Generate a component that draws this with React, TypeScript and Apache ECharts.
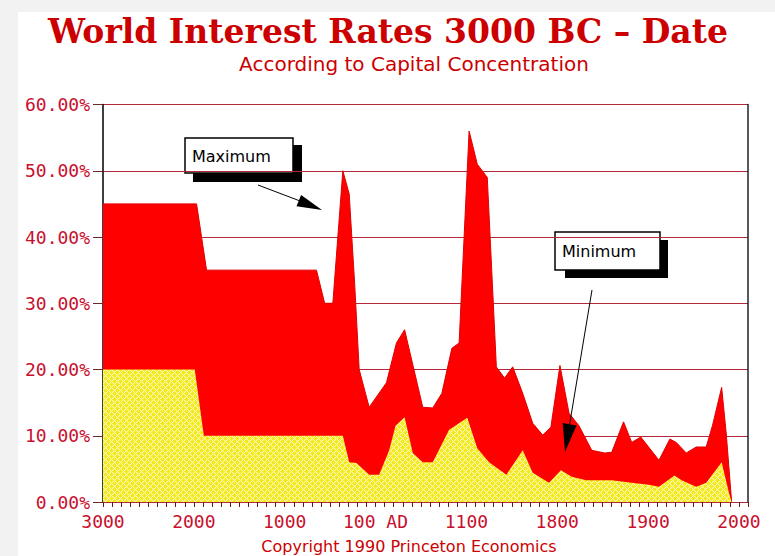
import React, { useEffect, useRef } from "react";
import * as echarts from "echarts";

// x positions are on an era axis: 0 = 3000 BC, 10 = 2000 BC, ... 70 = 2000 AD
const xTickLabels = ["3000", "2000", "1000", "100 AD", "1100", "1800", "1900", "2000"];

const maxPos = [0, 10.3, 11.4, 23.5, 24.4, 25.3, 26.4, 27.1, 27.7, 28.2, 29.3, 31.2, 32.3, 33.2, 35.2, 36.3, 37.3, 38.4, 39.2, 40.3, 41.2, 42.3, 43.3, 44.2, 45.1, 46.2, 47.3, 48.4, 49.3, 50.3, 51.3, 52.4, 53.8, 55.2, 56.0, 57.3, 58.2, 59.2, 61.2, 62.4, 63.1, 64.2, 65.3, 66.4, 67.1, 68.1, 68.6, 69.2];
const maxVal = [45, 45, 35, 35, 30, 30, 50, 46.5, 33, 20, 14.3, 18, 24, 26, 14.3, 14.2, 16.4, 23.2, 24, 56, 51, 49, 20.4, 18.7, 20.4, 16.4, 11.9, 10.1, 11.3, 20.6, 13.4, 11.5, 7.8, 7.4, 7.5, 12.1, 9, 9.8, 6.3, 9.5, 9, 7.4, 8.3, 8.3, 11.6, 17.3, 10.4, 0];

const minPos = [0, 10.1, 11.1, 26.4, 27.1, 27.9, 29.3, 30.4, 31.5, 32.2, 33.2, 34.1, 35.2, 36.3, 38.1, 40.1, 41.2, 42.5, 44.4, 46.2, 47.3, 49.1, 50.4, 51.6, 53.2, 56.0, 58.2, 60.1, 61.2, 62.9, 63.7, 65.3, 66.4, 68.1, 68.9, 69.2];
const minVal = [20, 20, 10, 10, 6, 5.9, 4.1, 4.1, 7.8, 11.5, 12.8, 7.4, 6, 6, 10.9, 12.7, 8.1, 6, 4.1, 7.8, 4.4, 2.9, 4.8, 3.8, 3.3, 3.3, 2.9, 2.6, 2.3, 4, 3.3, 2.3, 2.9, 6, 1.4, 0];

function makePattern(): any {
  const n = 6;
  const c = document.createElement("canvas");
  c.width = n;
  c.height = n;
  const ctx = c.getContext("2d");
  if (!ctx) return "#f6f062";
  ctx.fillStyle = "#f4ea20";
  ctx.fillRect(0, 0, n, n);
  ctx.fillStyle = "#fffbd0";
  for (let x = 0; x < n; x++) {
    for (let y = 0; y < n; y++) {
      if ((x + y) % n === 0 || (x - y + n) % n === 0) ctx.fillRect(x, y, 1, 1);
    }
  }
  return { image: c, repeat: "repeat" };
}

export default function App() {
  const ref = useRef<HTMLDivElement>(null);
  useEffect(() => {
    if (!ref.current) return;
    const chart = echarts.init(ref.current, null, { renderer: "svg" });
    const maxData = maxPos.map((p, i) => [p, maxVal[i]]);
    const minData = minPos.map((p, i) => [p, minVal[i]]);
    const labelRed = "#c8102e";
    chart.setOption({
      animation: false,
      title: [
        {
          text: "World Interest Rates 3000 BC – Date",
          left: 30,
          top: 3,
          padding: 0,
          textStyle: { color: "#cc0000", fontFamily: "DejaVu Serif", fontWeight: "bold", fontSize: 33 },
        },
        {
          text: "According to Capital Concentration",
          left: 396,
          top: 42,
          textAlign: "center",
          padding: 0,
          textStyle: { color: "#cc0000", fontFamily: "DejaVu Sans", fontWeight: "normal", fontSize: 20 },
        },
        {
          text: "Copyright 1990 Princeton Economics",
          left: 391,
          top: 526,
          textAlign: "center",
          padding: 0,
          textStyle: { color: "#cc0000", fontFamily: "DejaVu Sans", fontWeight: "normal", fontSize: 16 },
        },
      ],
      grid: { left: 85, right: 27, top: 92.5, bottom: 54, containLabel: false },
      xAxis: {
        type: "value",
        min: 0,
        max: 71,
        interval: 10,
        axisLine: { show: false },
        axisTick: { show: true, length: 5, lineStyle: { color: "#6a1818", width: 1 } },
        minorTick: { show: true, splitNumber: 10, length: 5, lineStyle: { color: "#6a1818", width: 1 } },
        splitLine: { show: false },
        axisLabel: {
          margin: 10,
          color: labelRed,
          fontFamily: "DejaVu Sans Mono",
          fontSize: 18,
          formatter: (v: number) => {
            const k = Math.round(v / 10);
            return Math.abs(v - k * 10) < 1e-6 && k >= 0 && k < xTickLabels.length ? xTickLabels[k] : "";
          },
        },
      },
      yAxis: [
        {
          type: "value",
          min: 0,
          max: 60,
          interval: 10,
          axisLine: { show: true, lineStyle: { color: "#000", width: 1.5 } },
          axisTick: { show: true, length: 10, lineStyle: { color: "#6b2a2a", width: 1 } },
          splitLine: { show: true, lineStyle: { color: "#b3283a", width: 1 } },
          axisLabel: {
            margin: 13,
            color: labelRed,
            fontFamily: "DejaVu Sans Mono",
            fontSize: 18,
            formatter: (v: number) => v.toFixed(2) + "%",
          },
        },
        {
          type: "value",
          position: "right",
          min: 0,
          max: 60,
          interval: 10,
          axisLine: { show: true, lineStyle: { color: "#222", width: 1.5 } },
          axisTick: { show: false },
          axisLabel: { show: false },
          splitLine: { show: false },
        },
      ],
      series: [
        {
          name: "Maximum",
          type: "line",
          data: maxData,
          showSymbol: false,
          symbol: "none",
          z: 2,
          lineStyle: { color: "#e00000", width: 1 },
          areaStyle: { color: "#ff0000", opacity: 1 },
        },
        {
          name: "Minimum",
          type: "line",
          data: minData,
          showSymbol: false,
          symbol: "none",
          z: 3,
          lineStyle: { width: 0, opacity: 0 },
          areaStyle: { color: makePattern(), opacity: 1 },
        },
      ],
      graphic: [
        { type: "rect", z: -1, shape: { x: 175, y: 133, width: 109, height: 37 }, style: { fill: "#000" } },
        { type: "rect", z: -1, shape: { x: 167, y: 126, width: 108, height: 35 }, style: { fill: "#fff", stroke: "#000", lineWidth: 1.5 } },
        { type: "text", z: 10, x: 174, y: 136, style: { text: "Maximum", fill: "#000", font: "16px 'DejaVu Sans'" } },
        { type: "line", z: 10, shape: { x1: 240, y1: 173, x2: 281, y2: 188.6 }, style: { stroke: "#000", lineWidth: 1 } },
        { type: "polygon", z: 10, shape: { points: [[304, 198], [278.5, 194.2], [283.1, 183]] }, style: { fill: "#000" } },
        { type: "rect", z: -1, shape: { x: 547, y: 228, width: 103, height: 38 }, style: { fill: "#000" } },
        { type: "rect", z: -1, shape: { x: 537, y: 220, width: 105, height: 38 }, style: { fill: "#fff", stroke: "#000", lineWidth: 1.5 } },
        { type: "text", z: 10, x: 544, y: 231, style: { text: "Minimum", fill: "#000", font: "16px 'DejaVu Sans'" } },
        { type: "line", z: 10, shape: { x1: 574, y1: 278, x2: 551.6, y2: 412.3 }, style: { stroke: "#000", lineWidth: 1 } },
        { type: "polygon", z: 10, shape: { points: [[547, 440], [558.5, 413.5], [544.7, 411.1]] }, style: { fill: "#000" } },
      ],
    });
    return () => chart.dispose();
  }, []);
  return (
    <div style={{ position: "fixed", left: 0, top: 0, width: 775, height: 556, background: "#f2f2f2", overflow: "hidden" }}>
      <div
        ref={ref}
        style={{ position: "absolute", left: 18, top: 12, width: 757, height: 544, background: "#fff" }}
      />
    </div>
  );
}
